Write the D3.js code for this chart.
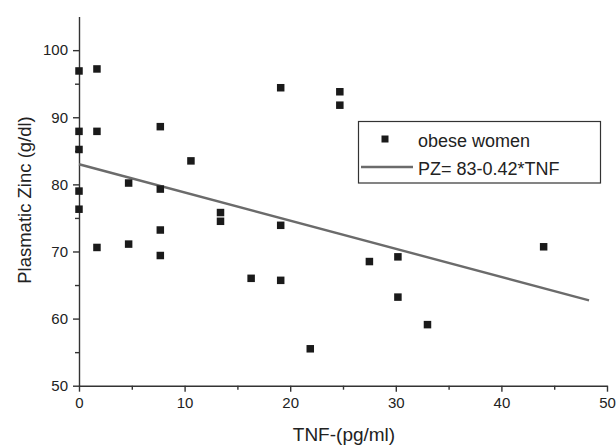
<!DOCTYPE html>
<html>
<head>
<meta charset="utf-8">
<script src="https://cdn.jsdelivr.net/npm/d3@7"></script>
<style>
  body { margin: 0; background: #fff; }
  svg { display: block; font-family: "Liberation Sans", Arial, Helvetica, sans-serif; }
</style>
</head>
<body>
<div id="chart"></div>
<script>
// values
const tnf  = [0, 1.7, 19.1, 0, 1.7, 7.7, 0, 10.6, 4.7, 7.7, 0, 0, 13.4, 13.4, 19.1, 7.7,
              1.7, 4.7, 7.7, 16.3, 19.1, 21.9, 24.7, 24.7, 27.5, 30.2, 30.2, 33.0, 44.0];
const zinc = [96.9, 97.2, 94.4, 87.9, 87.9, 88.6, 85.2, 83.5, 80.2, 79.3, 79.0, 76.3, 75.8, 74.5, 73.9, 73.2,
              70.6, 71.1, 69.4, 66.0, 65.7, 55.5, 93.8, 91.8, 68.5, 69.2, 63.2, 59.1, 70.7];
const fitIntercept = 83;
const fitSlope = -0.42;
const fitRange = [0, 48.3];
const xTicks = [0, 10, 20, 30, 40, 50];
const xMinor = [5, 15, 25, 35, 45];
const yTicks = [50, 60, 70, 80, 90, 100];
const yMinor = [55, 65, 75, 85, 95];
const seriesLabel = "obese women";
const fitLabel = "PZ= 83-0.42*TNF";

const width = 616, height = 445;
const margin = {top: 16.6, right: 9, bottom: 59.3, left: 79};

const svg = d3.select("#chart").append("svg")
  .attr("width", width)
  .attr("height", height);

const x = d3.scaleLinear().domain([0, 50]).range([margin.left, width - margin.right]);
const y = d3.scaleLinear().domain([50, 105]).range([height - margin.bottom, margin.top]);

const axisColor = "#333";

// minor ticks first (no labels)
svg.append("g")
  .attr("transform", `translate(0,${y(50)})`)
  .call(d3.axisBottom(x).tickValues(xMinor).tickSize(4).tickFormat(""))
  .call(g => g.select(".domain").remove());
svg.append("g")
  .attr("transform", `translate(${x(0)},0)`)
  .call(d3.axisLeft(y).tickValues(yMinor).tickSize(4).tickFormat(""))
  .call(g => g.select(".domain").remove());

// x axis
const xAxis = svg.append("g")
  .attr("transform", `translate(0,${y(50)})`)
  .call(d3.axisBottom(x).tickValues(xTicks).tickSize(6).tickSizeOuter(0).tickPadding(6));
xAxis.selectAll("text").attr("font-size", 15).attr("fill", "#222");

// y axis
const yAxis = svg.append("g")
  .attr("transform", `translate(${x(0)},0)`)
  .call(d3.axisLeft(y).tickValues(yTicks).tickSize(6).tickSizeOuter(0).tickPadding(5));
yAxis.selectAll("text").attr("font-size", 15).attr("fill", "#222");

svg.selectAll(".domain, .tick line")
  .attr("stroke", axisColor)
  .attr("stroke-width", 1.4);

// axis titles
svg.append("text")
  .attr("x", (x(0) + x(50)) / 2 + 1)
  .attr("y", 441)
  .attr("text-anchor", "middle")
  .attr("font-size", 19)
  .attr("fill", "#222")
  .text("TNF-(pg/ml)");

svg.append("text")
  .attr("transform", `translate(31,200) rotate(-90)`)
  .attr("text-anchor", "middle")
  .attr("font-size", 18.5)
  .attr("fill", "#222")
  .text("Plasmatic Zinc (g/dl)");

// regression line
const fitLine = d3.line()
  .x(d => x(d))
  .y(d => y(fitIntercept + fitSlope * d));
svg.append("path")
  .datum(fitRange)
  .attr("d", fitLine)
  .attr("fill", "none")
  .attr("stroke", "#6b6b6b")
  .attr("stroke-width", 2.4);

// points
const ms = 7.5;
svg.append("g")
  .selectAll("rect")
  .data(tnf.map((t, i) => ({t, z: zinc[i]})))
  .join("rect")
    .attr("x", d => x(d.t) - ms / 2)
    .attr("y", d => y(d.z) - ms / 2)
    .attr("width", ms)
    .attr("height", ms)
    .attr("fill", "#1a1a1a");

// legend
const legend = svg.append("g");
legend.append("rect")
  .attr("x", 358.5).attr("y", 121.5)
  .attr("width", 242).attr("height", 61.5)
  .attr("fill", "#fff")
  .attr("stroke", "#333")
  .attr("stroke-width", 1.2);
legend.append("rect")
  .attr("x", 385 - 3.5).attr("y", 139 - 3.5)
  .attr("width", 7).attr("height", 7)
  .attr("fill", "#1a1a1a");
legend.append("text")
  .attr("x", 418).attr("y", 146.5)
  .attr("font-size", 18)
  .attr("fill", "#222")
  .text(seriesLabel);
legend.append("line")
  .attr("x1", 361).attr("x2", 413)
  .attr("y1", 167).attr("y2", 167)
  .attr("stroke", "#6b6b6b")
  .attr("stroke-width", 2.4);
legend.append("text")
  .attr("x", 418).attr("y", 175)
  .attr("font-size", 18)
  .attr("fill", "#222")
  .text(fitLabel);
</script>
</body>
</html>
